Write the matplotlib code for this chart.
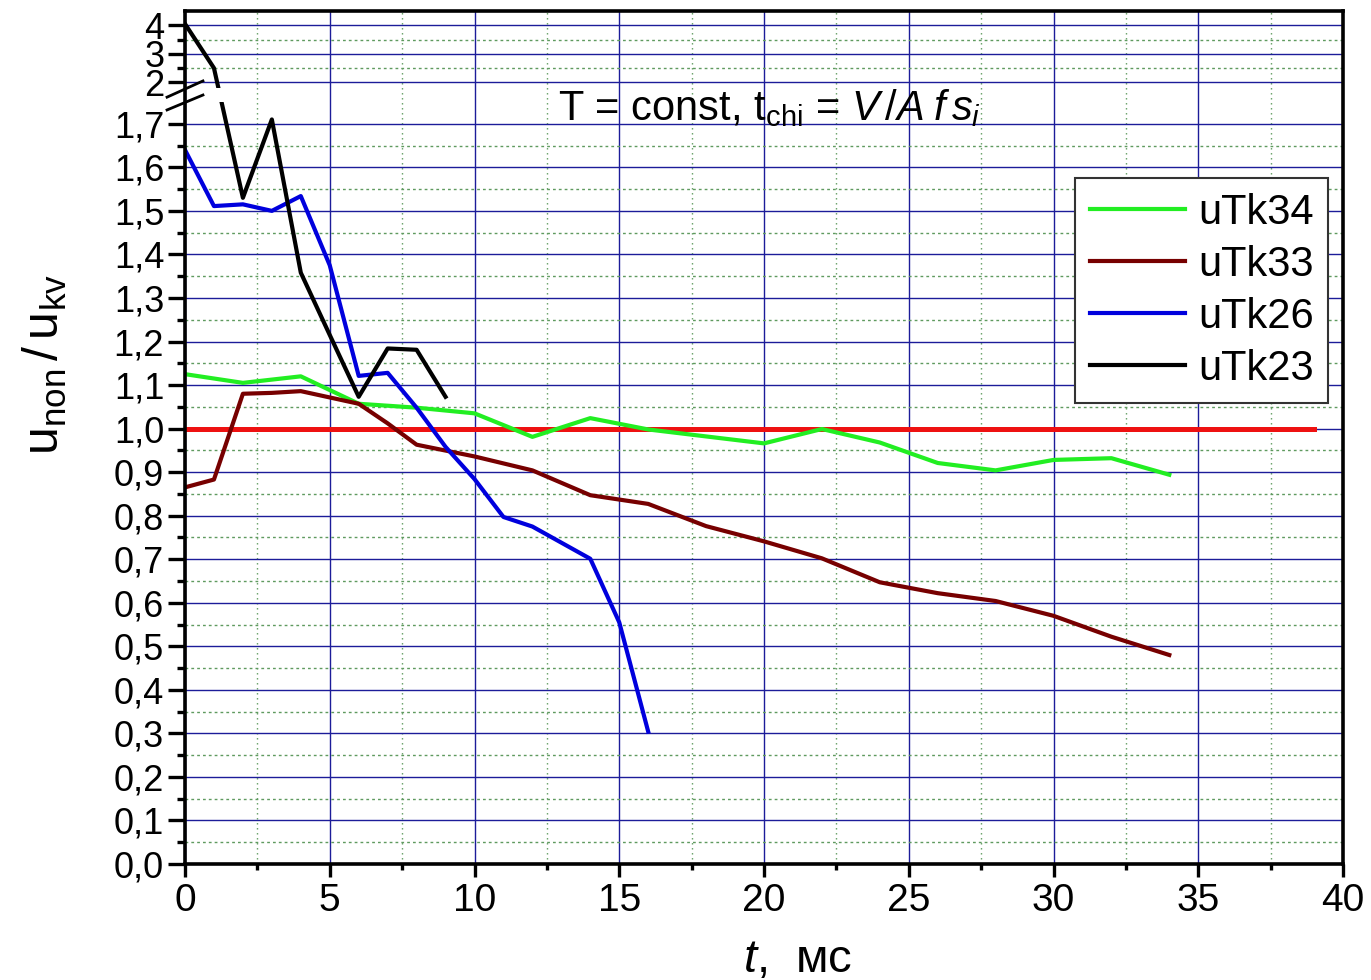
import numpy as np
import matplotlib
matplotlib.use("Agg")
import matplotlib.pyplot as plt
from matplotlib.path import Path

plt.rcParams['font.family'] = ['Liberation Sans', 'DejaVu Sans']
plt.rcParams['mathtext.fontset'] = 'custom'
plt.rcParams['mathtext.rm'] = 'Liberation Sans'
plt.rcParams['mathtext.it'] = 'Liberation Sans:italic'

# data
t_34 = [0, 2, 4, 6, 8, 10, 12, 14, 16, 18, 20, 22, 24, 26, 28, 30, 32, 34]
u_34 = [1.125, 1.105, 1.12, 1.057, 1.048, 1.035, 0.981, 1.024, 0.998, 0.982,
        0.966, 0.999, 0.968, 0.921, 0.904, 0.928, 0.932, 0.894]

t_33 = [0, 1, 2, 3, 4, 6, 7, 8, 10, 12, 14, 16, 18, 20, 22, 24, 26, 28, 30, 32, 34]
u_33 = [0.865, 0.883, 1.08, 1.082, 1.086, 1.057, 1.012, 0.963, 0.936, 0.904,
        0.847, 0.827, 0.776, 0.741, 0.702, 0.647, 0.622, 0.604, 0.570, 0.522, 0.48]

t_26 = [0, 1, 2, 3, 4, 5, 6, 7, 8, 9, 10, 11, 12, 14, 15, 16]
u_26 = [1.64, 1.511, 1.515, 1.50, 1.534, 1.375, 1.121, 1.128, 1.048, 0.958,
        0.884, 0.797, 0.775, 0.701, 0.555, 0.304]

t_23 = [0, 1, 2, 3, 4, 5, 6, 7, 8, 9]
u_23 = [4.05, 2.5, 1.53, 1.71, 1.358, 1.215, 1.073, 1.184, 1.181, 1.073]

t_ref = [0, 39]
u_ref = [1.0, 1.0]

series = [("uTk34", t_34, u_34, "#22ee22"),
          ("uTk33", t_33, u_33, "#770000"),
          ("uTk26", t_26, u_26, "#0000dd"),
          ("uTk23", t_23, u_23, "#000000")]

# broken y axis: 0..1.75 normal, gap, 1.8..4.5 compressed
BRK_LO, BRK_HI = 1.75, 1.8
GAP = 0.0322
K_UP = 0.0655


def fwd(y):
    y = np.asarray(y, dtype=float)
    return np.where(y <= BRK_LO, y,
                    np.where(y < BRK_HI, BRK_LO + (y - BRK_LO) * GAP / (BRK_HI - BRK_LO),
                             BRK_LO + GAP + (y - BRK_HI) * K_UP))


def inv(v):
    v = np.asarray(v, dtype=float)
    return np.where(v <= BRK_LO, v,
                    np.where(v < BRK_LO + GAP, BRK_LO + (v - BRK_LO) * (BRK_HI - BRK_LO) / GAP,
                             BRK_HI + (v - BRK_LO - GAP) / K_UP))


fig = plt.figure(figsize=(13.71, 9.8), dpi=100)
ax = fig.add_axes([185 / 1371, 116 / 980, 1158 / 1371, 853 / 980])
ax.set_yscale('function', functions=(fwd, inv))
ax.set_xlim(0, 40)
ax.set_ylim(0, 4.5)

# ticks
yt_major = list(np.round(np.arange(0, 1.71, 0.1), 2)) + [2, 3, 4]
yt_labels = [("%.1f" % v).replace(".", ",") for v in yt_major[:-3]] + ["2", "3", "4"]
yt_minor = list(np.round(np.arange(0.05, 1.7, 0.1), 2)) + [2.5, 3.5]
ax.set_yticks(yt_major)
ax.set_yticklabels(yt_labels)
ax.set_yticks(yt_minor, minor=True)
ax.set_xticks(np.arange(0, 41, 5))
ax.set_xticks(np.arange(2.5, 40, 5), minor=True)

ax.tick_params(axis='y', which='major', direction='out', length=12, width=2.4,
               labelsize=26, pad=3)
ax.tick_params(axis='y', which='minor', direction='out', length=6, width=2.4)
ax.tick_params(axis='x', which='major', direction='out', length=9, width=2.4,
               labelsize=28, pad=5)
ax.tick_params(axis='x', which='minor', direction='out', length=4.5, width=2.4)

ax.grid(True, which='major', color='#1c1c99', linewidth=1.0, linestyle='-')
ax.grid(True, which='minor', axis='y', color='#5f9a5f', linewidth=1.0,
        linestyle=(0, (2, 2.2)))
ax.grid(True, which='minor', axis='x', color='#5f9a5f', linewidth=1.0,
        linestyle=(0, (1, 2.6)))
ax.set_axisbelow(True)

for s in ax.spines.values():
    s.set_linewidth(2.6)

# clip path leaving a gap at the break
verts = [(-5, -1), (50, -1), (50, BRK_LO), (-5, BRK_LO), (0, 0),
         (-5, BRK_HI), (50, BRK_HI), (50, 10), (-5, 10), (0, 0)]
codes = [Path.MOVETO, Path.LINETO, Path.LINETO, Path.LINETO, Path.CLOSEPOLY] * 2
clip = Path(verts, codes)

handles = []
for name, tx, uy, col in series:
    ln, = ax.plot(tx, uy, color=col, linewidth=3.0, label=name)
    ln.set_clip_path(clip, ax.transData)
    handles.append(ln)

ax.plot(t_ref, u_ref, color='#ee1111', linewidth=3.6, zorder=1.9)

# break marks on left spine
for y0, y1 in [(0.899, 0.918), (0.884, 0.9015)]:
    ax.plot([-0.0155, 0.0155], [y0, y1], transform=ax.transAxes, color='black',
            linewidth=2.0, clip_on=False)

leg = ax.legend(handles=handles, loc='upper left',
                bbox_to_anchor=(1075 / 1371, 1 - 178 / 980),
                bbox_transform=fig.transFigure, fontsize=30, handlelength=2.3,
                handletextpad=0.3, labelspacing=0.29, borderpad=0.35,
                borderaxespad=0, fancybox=False, framealpha=1, edgecolor='#333333')
leg.get_frame().set_linewidth(1.5)

fig.text(558 / 1371, 1 - 120 / 980,
         r'T = const, t$_\mathregular{chi}$ = $V\,/A\;f\,s_i$', fontsize=30,
         ha='left', va='baseline')

fig.text(798 / 1371, 1 - 972 / 980, r'$t$,  мс', fontsize=34, ha='center',
         va='baseline')
fig.text(45 / 1371, 1 - 365 / 980, r'$\mathregular{u_{non}\,/\,u_{kv}}$',
         fontsize=36, rotation=90, ha='center', va='center')

fig.savefig('out.png', dpi=100)
